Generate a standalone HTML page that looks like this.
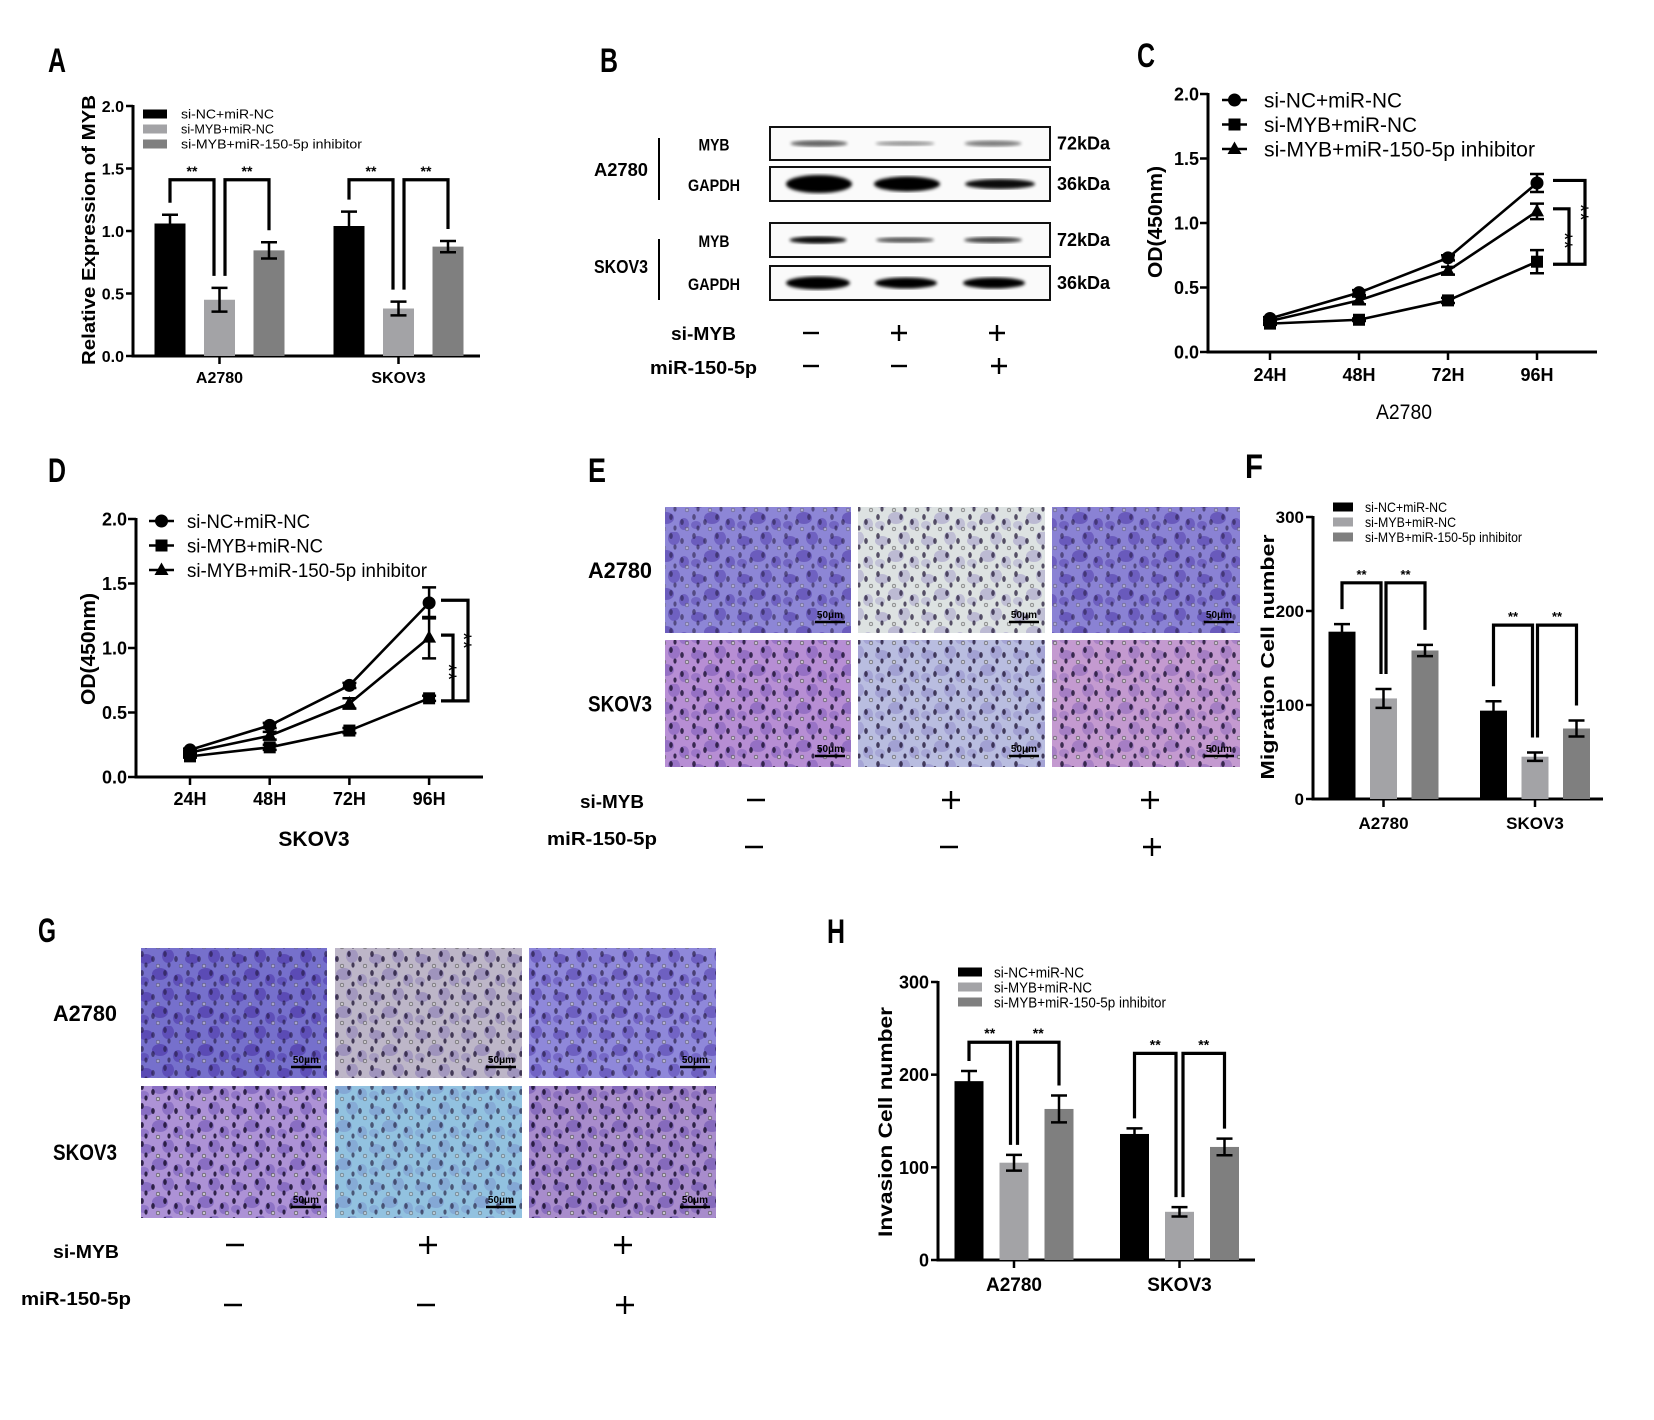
<!DOCTYPE html>
<html><head><meta charset="utf-8">
<style>
html,body{margin:0;padding:0;background:#fff;}
svg{display:block;}
text{font-family:"Liberation Sans","Noto Sans CJK SC",sans-serif;}
.lt{font-family:"Liberation Sans Narrow","Liberation Sans","Noto Sans CJK SC",sans-serif;}
</style></head>
<body>
<svg id="fig" width="1654" height="1420" viewBox="0 0 1654 1420" xmlns="http://www.w3.org/2000/svg">
<defs>
<filter id="blur1"><feGaussianBlur stdDeviation="1.6"/></filter>
<pattern id="blobs" width="46" height="38" patternUnits="userSpaceOnUse">
<ellipse cx="8" cy="9" rx="7" ry="5" fill="#3a1f9a" opacity="0.45"/>
<ellipse cx="30" cy="6" rx="6" ry="7" fill="#3a1f9a" opacity="0.4"/>
<ellipse cx="22" cy="24" rx="8" ry="6" fill="#3a1f9a" opacity="0.45"/>
<ellipse cx="40" cy="30" rx="5" ry="6" fill="#3a1f9a" opacity="0.4"/>
<ellipse cx="6" cy="31" rx="5" ry="4" fill="#3a1f9a" opacity="0.35"/>
</pattern>
<pattern id="dots" width="23" height="19" patternUnits="userSpaceOnUse">
<ellipse cx="4" cy="4" rx="1.8" ry="3" fill="#1a1030"/>
<ellipse cx="15" cy="9" rx="1.8" ry="3" fill="#1a1030"/>
<ellipse cx="8" cy="15" rx="1.6" ry="2.6" fill="#1a1030"/>
<circle cx="20" cy="16" r="1.8" fill="#cfcfcf" stroke="#333" stroke-width="0.6"/>
</pattern>
</defs>
</svg>
<script>
// ---------- Panel A data ----------
const aCategories = ["A2780", "SKOV3"];
const aSeriesNames = ["si-NC+miR-NC", "si-MYB+miR-NC", "si-MYB+miR-150-5p inhibitor"];
const aValsNC = [1.06, 1.04];
const aValsMYB = [0.45, 0.38];
const aValsINH = [0.845, 0.875];
const aErrNC = [0.07, 0.115];
const aErrMYB = [0.095, 0.055];
const aErrINH = [0.065, 0.045];
const aSigTop = [1.41, 1.41];
const aTicks = [0, 0.5, 1.0, 1.5, 2.0];
const aTickLabels = ["0.0", "0.5", "1.0", "1.5", "2.0"];
// ---------- Panel F data ----------
const fCategories = ["A2780", "SKOV3"];
const fValsNC = [178, 94];
const fValsMYB = [107, 45];
const fValsINH = [158, 75];
const fErrNC = [8, 10];
const fErrMYB = [10, 4.5];
const fErrINH = [6, 8.5];
const fSigTop = [230, 185];
const fTicks = [0, 100, 200, 300];
const fTickLabels = ["0", "100", "200", "300"];
// ---------- Panel H data ----------
const hCategories = ["A2780", "SKOV3"];
const hValsNC = [193, 136];
const hValsMYB = [105, 52];
const hValsINH = [163, 122];
const hErrNC = [11, 6];
const hErrMYB = [8.5, 5];
const hErrINH = [14.5, 9];
const hSigTop = [235, 223];
const hTicks = [0, 100, 200, 300];
const hTickLabels = ["0", "100", "200", "300"];
// ---------- Panel C data ----------
const timeLabels = ["24H", "48H", "72H", "96H"];
const cNC = [0.26, 0.46, 0.73, 1.31];
const cMYB = [0.22, 0.25, 0.40, 0.70];
const cINH = [0.24, 0.40, 0.63, 1.09];
const cErrNC = [0.01, 0.02, 0.02, 0.07];
const cErrMYB = [0.01, 0.01, 0.02, 0.09];
const cErrINH = [0.01, 0.03, 0.03, 0.06];
// ---------- Panel D data ----------
const dNC = [0.21, 0.40, 0.71, 1.35];
const dMYB = [0.16, 0.23, 0.36, 0.61];
const dINH = [0.19, 0.32, 0.57, 1.08];
const dErrNC = [0.01, 0.02, 0.02, 0.12];
const dErrMYB = [0.01, 0.02, 0.02, 0.02];
const dErrINH = [0.01, 0.03, 0.04, 0.16];
const lineTicks = [0, 0.5, 1.0, 1.5, 2.0];
const lineTickLabels = ["0.0", "0.5", "1.0", "1.5", "2.0"];

const NS = "http://www.w3.org/2000/svg";
const svg = document.getElementById("fig");
function el(tag, attrs, parent) {
  const e = document.createElementNS(NS, tag);
  for (const k in attrs) e.setAttribute(k, attrs[k]);
  (parent || svg).appendChild(e);
  return e;
}
function txt(x, y, s, attrs, parent) {
  const t = el("text", Object.assign({x: x, y: y}, attrs || {}), parent);
  t.textContent = s;
  return t;
}
function grp(name) {
  const g = el("g", {});
  
  
  return g;
}
const BAR_COLORS = ["#000000", "#a3a3a6", "#7f7f7f"];

function barChart(p) {
  const g = grp(p.name);
  const ys = v => p.y0 - (v / p.max) * (p.y0 - p.yTop);
  const ya = el("line", {x1: p.x0, y1: p.yTop - 1, x2: p.x0, y2: p.y0 + 1.5, stroke: "#000", "stroke-width": 3}, g);
  
  
  const xa = el("line", {x1: p.x0 - 1.5, y1: p.y0, x2: p.xEnd, y2: p.y0, stroke: "#000", "stroke-width": 3}, g);
  
  
  p.ticks.forEach((t, i) => {
    const y = ys(t);
    el("line", {x1: p.x0 - 7, y1: y, x2: p.x0, y2: y, stroke: "#000", "stroke-width": 2.5}, g);
    const tl = txt(p.x0 - 9, y + p.tickFont * 0.36, p.tickLabels[i], {"text-anchor": "end", "font-size": p.tickFont, "font-weight": "bold"}, g);
    
    
  });
  const series = [p.nc, p.myb, p.inh];
  const errs = [p.enc, p.emyb, p.einh];
  p.categories.forEach((c, gi) => {
    const gc = p.centers[gi];
    el("line", {x1: gc, y1: p.y0, x2: gc, y2: p.y0 + 8, stroke: "#000", "stroke-width": 2.5}, g);
    const cl = txt(gc, p.catY, c, {"text-anchor": "middle", "font-size": p.catFont, "font-weight": "bold"}, g);
    
    
    const cx = [];
    series.forEach((s, si) => {
      const x = gc + (si - 1) * p.step;
      cx.push(x);
      const top = ys(s[gi]);
      const r = el("rect", {x: x - p.bw / 2, y: top, width: p.bw, height: p.y0 - top, fill: BAR_COLORS[si]}, g);
      
      
      const eTop = ys(s[gi] + errs[si][gi]), eBot = ys(s[gi] - errs[si][gi]);
      el("path", {d: `M${x},${eTop}V${eBot}M${x - 8},${eTop}H${x + 8}M${x - 8},${eBot}H${x + 8}`, stroke: "#000", "stroke-width": 2.5, fill: "none"}, g);
    });
    const topY = ys(p.sigTop[gi]);
    const legEnd = si => ys(series[si][gi] + errs[si][gi]) - p.gap;
    const pairs = [[0, 1, 0, -p.split], [1, 2, p.split, 0]];
    pairs.forEach(pr => {
      const xl = cx[pr[0]] + pr[2], xr = cx[pr[1]] + pr[3];
      const b = el("path", {d: `M${xl},${legEnd(pr[0])}V${topY}H${xr}V${legEnd(pr[1])}`, stroke: "#000", "stroke-width": 3.2, fill: "none"}, g);
      
      
      const st = txt((xl + xr) / 2, topY - 4, "**", {"text-anchor": "middle", "font-size": p.starFont, "font-weight": "bold"}, g);
      
      
    });
  });
  aSeriesNames.forEach((n, i) => {
    const y = p.legY + i * p.legStep;
    const lb = el("rect", {x: p.legX, y: y - p.legH / 2, width: p.legW, height: p.legH, fill: BAR_COLORS[i]}, g);
    
    
    const lt = txt(p.legTX, y + p.legFont * 0.36, n, {"font-size": p.legFont, "class": "lt", textLength: p.legLen[i], lengthAdjust: "spacingAndGlyphs"}, g);
    
    
  });
  const yt = txt(0, 0, p.yTitle, {"text-anchor": "middle", "font-size": p.yTitleFont, "font-weight": "bold", transform: `translate(${p.yTitleX},${p.yTitleY}) rotate(-90)`, textLength: p.yTitleLen, lengthAdjust: "spacingAndGlyphs"}, g);
  
  
}

barChart({name: "panel-a-chart", x0: 133, xEnd: 480, y0: 356, yTop: 106, max: 2.0, ticks: aTicks, tickLabels: aTickLabels, tickFont: 16,
  categories: aCategories, centers: [219.5, 398.5], step: 49.5, bw: 31,
  nc: aValsNC, myb: aValsMYB, inh: aValsINH, enc: aErrNC, emyb: aErrMYB, einh: aErrINH, sigTop: aSigTop, gap: 12, split: 5.5, starFont: 14,
  catY: 383, catFont: 16, legX: 143, legTX: 181, legY: 114, legStep: 15, legW: 24, legH: 9, legFont: 13, legLen: [93, 93, 181],
  yTitle: "Relative Expression of MYB", yTitleX: 95, yTitleY: 230, yTitleFont: 18, yTitleLen: 270});

barChart({name: "panel-f-chart", x0: 1313, xEnd: 1603, y0: 799, yTop: 517, max: 300, ticks: fTicks, tickLabels: fTickLabels, tickFont: 17,
  categories: fCategories, centers: [1383.5, 1535], step: 41.5, bw: 27,
  nc: fValsNC, myb: fValsMYB, inh: fValsINH, enc: fErrNC, emyb: fErrMYB, einh: fErrINH, sigTop: fSigTop, gap: 15, split: 2.5, starFont: 13,
  catY: 829, catFont: 17, legX: 1333, legTX: 1365, legY: 507, legStep: 15, legW: 20, legH: 9, legFont: 14, legLen: [82, 91, 157],
  yTitle: "Migration Cell number", yTitleX: 1274, yTitleY: 657, yTitleFont: 18, yTitleLen: 245});

barChart({name: "panel-h-chart", x0: 938, xEnd: 1255, y0: 1260, yTop: 982, max: 300, ticks: hTicks, tickLabels: hTickLabels, tickFont: 18,
  categories: hCategories, centers: [1014, 1179.5], step: 45, bw: 29,
  nc: hValsNC, myb: hValsMYB, inh: hValsINH, enc: hErrNC, emyb: hErrMYB, einh: hErrINH, sigTop: hSigTop, gap: 10, split: 3.5, starFont: 14,
  catY: 1291, catFont: 19, legX: 958, legTX: 994, legY: 972, legStep: 15, legW: 24, legH: 9, legFont: 15, legLen: [90, 98, 172],
  yTitle: "Invasion Cell number", yTitleX: 892, yTitleY: 1122, yTitleFont: 19, yTitleLen: 230});

function marker(kind, x, y, g) {
  let m;
  if (kind === 0) m = el("circle", {cx: x, cy: y, r: 6.5, fill: "#000"}, g);
  else if (kind === 1) m = el("rect", {x: x - 6, y: y - 6, width: 12, height: 12, fill: "#000"}, g);
  else m = el("path", {d: `M${x},${y - 7.5}L${x + 7},${y + 5}L${x - 7},${y + 5}Z`, fill: "#000"}, g);
  return m;
}
function lineChart(p) {
  const g = grp(p.name);
  const ys = v => p.y0 - v * p.ppu;
  const xs = i => p.xFirst + i * p.xStep;
  const ya = el("line", {x1: p.x0, y1: ys(2) - 1, x2: p.x0, y2: p.y0 + 1.5, stroke: "#000", "stroke-width": 3}, g);
  
  
  const xa = el("line", {x1: p.x0 - 1.5, y1: p.y0, x2: p.xEnd, y2: p.y0, stroke: "#000", "stroke-width": 3}, g);
  
  
  lineTicks.forEach((t, i) => {
    el("line", {x1: p.x0 - 8, y1: ys(t), x2: p.x0, y2: ys(t), stroke: "#000", "stroke-width": 2.5}, g);
    const tl = txt(p.x0 - 9, ys(t) + 6.5, lineTickLabels[i], {"text-anchor": "end", "font-size": 18, "font-weight": "bold"}, g);
    
    
  });
  timeLabels.forEach((l, i) => {
    el("line", {x1: xs(i), y1: p.y0, x2: xs(i), y2: p.y0 + 8, stroke: "#000", "stroke-width": 2.5}, g);
    const tl = txt(xs(i), p.tickY, l, {"text-anchor": "middle", "font-size": 18, "font-weight": "bold"}, g);
    
    
  });
  const series = [p.nc, p.myb, p.inh], errs = [p.enc, p.emyb, p.einh];
  series.forEach((s, si) => {
    const pts = s.map((v, i) => xs(i) + "," + ys(v)).join(" ");
    const pl = el("polyline", {points: pts, fill: "none", stroke: "#000", "stroke-width": 2.6}, g);
    
    
    s.forEach((v, i) => {
      const x = xs(i), t = ys(v + errs[si][i]), b = ys(v - errs[si][i]);
      el("path", {d: `M${x},${t}V${b}M${x - 7},${t}H${x + 7}M${x - 7},${b}H${x + 7}`, stroke: "#000", "stroke-width": 2.5, fill: "none"}, g);
      const m = marker(si, x, ys(v), g);
      
      
    });
  });
  const last = 3;
  const oTop = ys(p.nc[last] + 0.02), bot = ys(p.myb[last] - 0.02), iTop = ys(p.inh[last] + 0.02);
  const ob = el("path", {d: `M${p.bx0},${oTop}H${p.bxO}V${bot}H${p.bx0}`, stroke: "#000", "stroke-width": 3.2, fill: "none"}, g);
  
  
  const ib = el("path", {d: `M${p.bx0},${iTop}H${p.bxI}V${bot}`, stroke: "#000", "stroke-width": 3.2, fill: "none"}, g);
  
  
  const s1 = txt(0, 0, "**", {"text-anchor": "middle", "font-size": 22, transform: `translate(${p.bxO - 12},${(oTop + bot) / 2 - 10}) rotate(90)`}, g);
  
  
  const s2 = txt(0, 0, "**", {"text-anchor": "middle", "font-size": 22, transform: `translate(${p.bxI - 12},${(iTop + bot) / 2 + 4}) rotate(90)`}, g);
  
  
  aSeriesNames.forEach((n, i) => {
    const y = p.legY + i * p.legStep;
    el("line", {x1: p.legX, y1: y, x2: p.legX + p.legW, y2: y, stroke: "#000", "stroke-width": 2.6}, g);
    marker(i, p.legX + p.legW / 2, y, g);
    const lt = txt(p.legTX, y + p.legFont * 0.36, n, {"font-size": p.legFont, textLength: p.legLen[i], lengthAdjust: "spacingAndGlyphs"}, g);
    
    
  });
  const yt = txt(0, 0, "OD(450nm)", {"text-anchor": "middle", "font-size": 20, "font-weight": "bold", transform: `translate(${p.yTitleX},${p.yTitleY}) rotate(-90)`, textLength: 112, lengthAdjust: "spacingAndGlyphs"}, g);
  
  
  const xt = txt(p.xTitleX, p.xTitleY, p.xTitle, Object.assign({"text-anchor": "middle"}, p.xTitleAttrs), g);
  
  
}
lineChart({name: "panel-c-chart", x0: 1208, xEnd: 1597, y0: 352, ppu: 129, xFirst: 1270, xStep: 89, tickY: 381,
  nc: cNC, myb: cMYB, inh: cINH, enc: cErrNC, emyb: cErrMYB, einh: cErrINH, bx0: 1553, bxO: 1585, bxI: 1569,
  legX: 1222, legW: 25, legTX: 1264, legY: 100, legStep: 24.5, legFont: 21, legLen: [138, 153, 271],
  yTitleX: 1162, yTitleY: 222, xTitle: "A2780", xTitleX: 1404, xTitleY: 419, xTitleAttrs: {"font-size": 21, textLength: 56, lengthAdjust: "spacingAndGlyphs"}});
lineChart({name: "panel-d-chart", x0: 136, xEnd: 483, y0: 777, ppu: 129, xFirst: 190, xStep: 79.7, tickY: 805,
  nc: dNC, myb: dMYB, inh: dINH, enc: dErrNC, emyb: dErrMYB, einh: dErrINH, bx0: 441, bxO: 468, bxI: 453,
  legX: 149, legW: 25, legTX: 187, legY: 521, legStep: 24.5, legFont: 19, legLen: [123, 136, 240],
  yTitleX: 95, yTitleY: 649, xTitle: "SKOV3", xTitleX: 314, xTitleY: 846, xTitleAttrs: {"font-size": 21, "font-weight": "bold"}});

// ---------- Panel letters ----------
[["A", 48, 72], ["B", 600, 72], ["C", 1137, 67], ["D", 48, 482], ["E", 588, 482], ["F", 1245, 478], ["G", 38, 942], ["H", 827, 943]].forEach(l => {
  const t = txt(l[1], l[2], l[0], {"font-size": 34, "font-weight": "bold", "class": "lt", textLength: 18, lengthAdjust: "spacingAndGlyphs"});
  
  
});

// ---------- Panel B western blot ----------
const gb = grp("panel-b-western-blot");
const blotRows = [
  {y1: 127, y2: 160, lbl: "MYB", kda: "72kDa", bands: [[819, 57, 3.2, 0.6], [905, 59, 2.5, 0.4], [993, 57, 3, 0.5]]},
  {y1: 167, y2: 201, lbl: "GAPDH", kda: "36kDa", bands: [[819, 66, 9, 1], [907, 66, 7.5, 1], [1000, 70, 5, 0.95]]},
  {y1: 223, y2: 257, lbl: "MYB", kda: "72kDa", bands: [[818, 57, 3.6, 0.95], [905, 58, 2.8, 0.65], [993, 58, 3, 0.75]]},
  {y1: 266, y2: 300, lbl: "GAPDH", kda: "36kDa", bands: [[818, 64, 6.5, 1], [906, 62, 5.5, 1], [994, 62, 5.5, 1]]}
];
blotRows.forEach(r => {
  const b = el("rect", {x: 770, y: r.y1, width: 280, height: r.y2 - r.y1, fill: "#fafafa", stroke: "#111", "stroke-width": 2}, gb);
  
  
  const cy = (r.y1 + r.y2) / 2;
  r.bands.forEach(bd => {
    const e = el("ellipse", {cx: bd[0], cy: cy, rx: bd[1] / 2, ry: bd[2], fill: "#000", opacity: bd[3], filter: "url(#blur1)"}, gb);
    
    
  });
  const l = txt(714, cy + 7, r.lbl, {"text-anchor": "middle", "font-size": 17, "font-weight": "bold", "class": "lt", textLength: r.lbl === "MYB" ? 31 : 52, lengthAdjust: "spacingAndGlyphs"}, gb);
  
  
  const k = txt(1057, cy + 6, r.kda, {"font-size": 18, "font-weight": "bold", "class": "lt", textLength: 53, lengthAdjust: "spacingAndGlyphs"}, gb);
  
  
});
[["A2780", 176, 138, 200], ["SKOV3", 273, 239, 300]].forEach(c => {
  const t = txt(621, c[1], c[0], {"text-anchor": "middle", "font-size": 18, "font-weight": "bold", "class": "lt", textLength: 54, lengthAdjust: "spacingAndGlyphs"}, gb);
  
  
  el("line", {x1: 659, y1: c[2], x2: 659, y2: c[3], stroke: "#000", "stroke-width": 2}, gb);
});

function treatmentRows(name, rows) {
  const g = grp(name);
  rows.forEach(r => {
    const t = txt(r.lx, r.ly, r.label, {"font-size": r.lf, "font-weight": "bold", "class": "lt", textLength: r.llen, lengthAdjust: "spacingAndGlyphs"}, g);
    
    
    r.signs.forEach((s, i) => {
      const x = r.xs[i], y = r.sy;
      const h = r.ss;
      const p = el("path", {d: s === "+" ? `M${x - h},${y}H${x + h}M${x},${y - h}V${y + h}` : `M${x - h},${y}H${x + h}`, stroke: "#000", "stroke-width": 2.4, fill: "none"}, g);
      
      
    });
  });
}
treatmentRows("panel-b-treatments", [
  {label: "si-MYB", lx: 671, ly: 340, lf: 18, llen: 65, signs: ["-", "+", "+"], xs: [811, 899, 997], sy: 333, ss: 8},
  {label: "miR-150-5p", lx: 650, ly: 374, lf: 18, llen: 107, signs: ["-", "-", "+"], xs: [811, 899, 999], sy: 366, ss: 8}
]);
treatmentRows("panel-e-treatments", [
  {label: "si-MYB", lx: 580, ly: 808, lf: 18, llen: 64, signs: ["-", "+", "+"], xs: [756, 951, 1150], sy: 800, ss: 9},
  {label: "miR-150-5p", lx: 547, ly: 845, lf: 18, llen: 110, signs: ["-", "-", "+"], xs: [754, 949, 1152], sy: 847, ss: 9}
]);
treatmentRows("panel-g-treatments", [
  {label: "si-MYB", lx: 53, ly: 1258, lf: 18, llen: 66, signs: ["-", "+", "+"], xs: [235, 428, 623], sy: 1245, ss: 9},
  {label: "miR-150-5p", lx: 21, ly: 1305, lf: 18, llen: 110, signs: ["-", "-", "+"], xs: [233, 426, 625], sy: 1305, ss: 9}
]);

// ---------- Micrographs (E, G) ----------
function micrographs(name, cols, rows, colors, labels, labelX) {
  const g = grp(name);
  rows.forEach((r, ri) => {
    const lt = txt(labelX, (r[0] + r[1]) / 2 + 8, labels[ri], {"text-anchor": "end", "font-size": 22, "font-weight": "bold", "class": "lt", textLength: 64, lengthAdjust: "spacingAndGlyphs"}, g);
    
    
    cols.forEach((c, ci) => {
      const w = c[1] - c[0], h = r[1] - r[0];
      const base = el("rect", {x: c[0], y: r[0], width: w, height: h, fill: colors[ri][ci][0]}, g);
      
      
      el("rect", {x: c[0], y: r[0], width: w, height: h, fill: "url(#blobs)", opacity: colors[ri][ci][1]}, g);
      el("rect", {x: c[0], y: r[0], width: w, height: h, fill: "url(#dots)", opacity: colors[ri][ci][2]}, g);
      el("line", {x1: c[1] - 36, y1: r[1] - 11, x2: c[1] - 6, y2: r[1] - 11, stroke: "#000", "stroke-width": 2.5}, g);
      const sb = txt(c[1] - 21, r[1] - 15, "50μm", {"text-anchor": "middle", "font-size": 10, "font-weight": "bold"}, g);
      
      
    });
  });
}
micrographs("panel-e-migration-images", [[665, 851], [858, 1045], [1052, 1240]], [[507, 633], [640, 767]],
  [[["#8d86d6", 0.9, 0.5], ["#dde2e2", 0.45, 0.7], ["#8a82d4", 0.9, 0.5]],
   [["#b78ed4", 0.6, 0.8], ["#b9bde0", 0.4, 0.75], ["#c49ad0", 0.5, 0.8]]],
  ["A2780", "SKOV3"], 652);
micrographs("panel-g-invasion-images", [[141, 327], [335, 522], [529, 716]], [[948, 1078], [1086, 1218]],
  [[["#7670cc", 1, 0.55], ["#bdb6c8", 0.5, 0.75], ["#8f88da", 0.85, 0.6]],
   [["#ad92d6", 0.7, 0.85], ["#92c2e0", 0.35, 0.6], ["#a88ccc", 0.7, 0.85]]],
  ["A2780", "SKOV3"], 117);
</script>
</body></html>
